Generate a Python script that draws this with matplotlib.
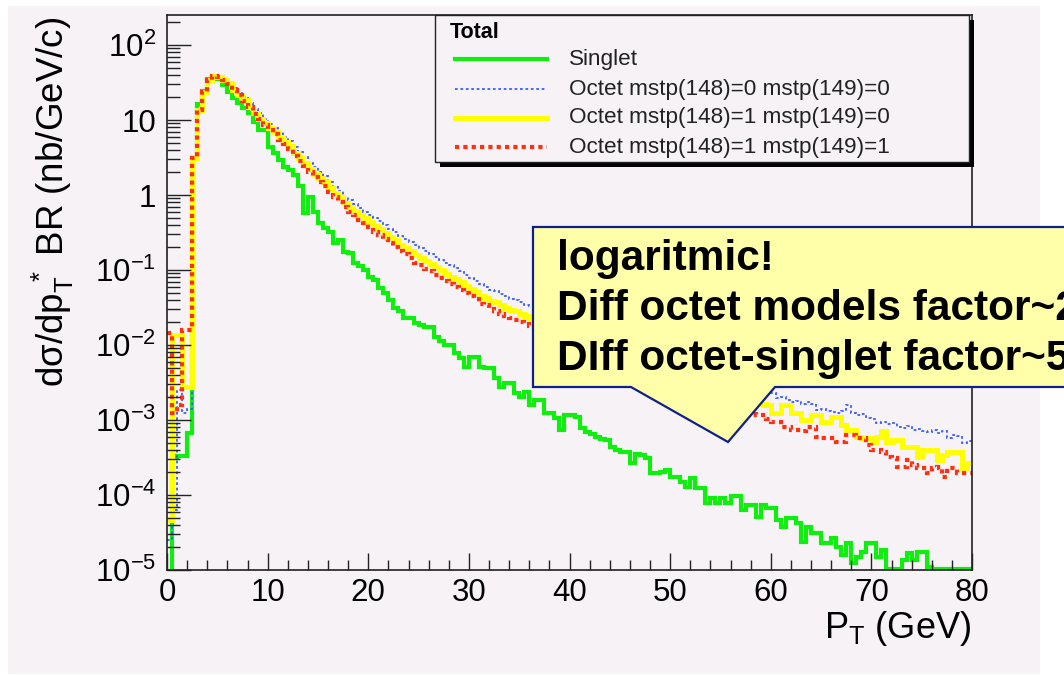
import numpy as np
import matplotlib
matplotlib.use("Agg")
import matplotlib.pyplot as plt
from matplotlib.patches import Rectangle, Polygon
from matplotlib.lines import Line2D
from matplotlib.ticker import LogLocator, MultipleLocator, NullFormatter

plt.rcParams['font.family'] = ['Liberation Sans', 'DejaVu Sans']
plt.rcParams['mathtext.fontset'] = 'custom'
plt.rcParams['mathtext.rm'] = 'Liberation Sans'
plt.rcParams['mathtext.it'] = 'Liberation Sans'
plt.rcParams['mathtext.default'] = 'regular'

# pT binning: 160 bins of 0.5 GeV
pt_edges = np.arange(0, 80.5, 0.5)

# log10 of dsigma/dpT * BR (nb/GeV/c) per bin, 10 bins (5 GeV) per row
singlet_log = [
    -6.00, -3.51, -3.48, -3.48, -3.17, 0.49, 1.21, 1.39, 1.55, 1.57,
    1.55, 1.47, 1.38, 1.29, 1.23, 1.16, 1.09, 0.98, 0.87, 0.87,
    0.64, 0.56, 0.47, 0.38, 0.33, 0.27, 0.12, -0.24, -0.02, -0.22,
    -0.37, -0.44, -0.49, -0.64, -0.60, -0.76, -0.77, -0.91, -0.95, -1.00,
    -1.09, -1.13, -1.24, -1.31, -1.40, -1.51, -1.55, -1.64, -1.64, -1.70,
    -1.73, -1.76, -1.76, -1.89, -1.95, -2.00, -2.00, -2.11, -2.17, -2.29,
    -2.16, -2.16, -2.29, -2.31, -2.31, -2.44, -2.56, -2.51, -2.51, -2.64,
    -2.69, -2.62, -2.80, -2.73, -2.73, -2.91, -2.90, -2.97, -3.13, -2.93,
    -2.93, -2.96, -3.11, -3.16, -3.18, -3.22, -3.25, -3.27, -3.36, -3.40,
    -3.42, -3.42, -3.57, -3.45, -3.47, -3.50, -3.71, -3.70, -3.69, -3.66,
    -3.76, -3.76, -3.82, -3.89, -3.77, -3.91, -3.91, -4.11, -4.04, -4.11,
    -4.04, -4.11, -4.02, -4.02, -4.20, -4.13, -4.13, -4.29, -4.13, -4.17,
    -4.17, -4.33, -4.42, -4.31, -4.31, -4.37, -4.62, -4.42, -4.51, -4.51,
    -4.64, -4.64, -4.57, -4.69, -4.80, -4.64, -4.90, -4.82, -4.76, -4.64,
    -4.64, -4.82, -4.73, -4.99, -4.99, -4.99, -4.87, -4.77, -4.87, -4.76,
    -4.76, -4.96, -4.99, -4.99, -4.99, -4.99, -4.99, -4.99, -4.99, -4.99,
]

octet_00_log = [
    -4.60, -4.20, -2.60, -2.90, -2.85, 0.49, 1.13, 1.38, 1.53, 1.59,
    1.59, 1.55, 1.51, 1.43, 1.37, 1.31, 1.23, 1.15, 1.09, 1.02,
    0.95, 0.90, 0.84, 0.78, 0.72, 0.64, 0.57, 0.51, 0.43, 0.37,
    0.31, 0.25, 0.17, 0.11, 0.05, -0.02, -0.07, -0.12, -0.17, -0.22,
    -0.27, -0.31, -0.35, -0.40, -0.45, -0.49, -0.54, -0.58, -0.62, -0.67,
    -0.71, -0.75, -0.78, -0.82, -0.86, -0.90, -0.93, -0.97, -1.01, -1.06,
    -1.10, -1.14, -1.19, -1.22, -1.26, -1.28, -1.32, -1.35, -1.38, -1.40,
    -1.43, -1.46, -1.48, -1.52, -1.53, -1.57, -1.58, -1.62, -1.63, -1.67,
    -1.68, -1.70, -1.74, -1.75, -1.79, -1.80, -1.84, -1.85, -1.89, -1.90,
    -1.94, -1.95, -1.97, -2.01, -2.03, -2.05, -2.08, -2.10, -2.12, -2.16,
    -2.17, -2.21, -2.22, -2.26, -2.27, -2.31, -2.32, -2.36, -2.37, -2.41,
    -2.42, -2.46, -2.48, -2.52, -2.54, -2.58, -2.60, -2.62, -2.62, -2.64,
    -2.64, -2.71, -2.69, -2.73, -2.76, -2.74, -2.78, -2.76, -2.79, -2.86,
    -2.85, -2.88, -2.89, -2.90, -2.88, -2.80, -2.91, -2.93, -2.92, -2.97,
    -2.99, -3.04, -3.03, -3.05, -3.04, -3.09, -3.11, -3.08, -3.13, -3.12,
    -3.14, -3.16, -3.13, -3.17, -3.15, -3.24, -3.20, -3.21, -3.30, -3.28,
]

octet_10_log = [
    -4.33, -1.87, -1.87, -2.56, -2.56, 0.49, 1.13, 1.38, 1.53, 1.59,
    1.58, 1.54, 1.49, 1.40, 1.33, 1.27, 1.18, 1.09, 1.02, 0.96,
    0.89, 0.84, 0.77, 0.71, 0.65, 0.56, 0.49, 0.43, 0.35, 0.28,
    0.23, 0.17, 0.09, 0.03, -0.03, -0.10, -0.16, -0.21, -0.26, -0.31,
    -0.36, -0.41, -0.45, -0.50, -0.56, -0.60, -0.66, -0.70, -0.74, -0.80,
    -0.84, -0.88, -0.92, -0.96, -1.00, -1.05, -1.09, -1.12, -1.16, -1.21,
    -1.25, -1.29, -1.34, -1.37, -1.41, -1.43, -1.47, -1.50, -1.53, -1.55,
    -1.58, -1.61, -1.64, -1.67, -1.69, -1.74, -1.75, -1.79, -1.80, -1.85,
    -1.86, -1.88, -1.93, -1.94, -1.97, -2.01, -2.02, -2.06, -2.08, -2.10,
    -2.14, -2.16, -2.18, -2.22, -2.24, -2.26, -2.30, -2.31, -2.35, -2.37,
    -2.39, -2.43, -2.45, -2.47, -2.51, -2.53, -2.55, -2.59, -2.61, -2.63,
    -2.67, -2.68, -2.72, -2.73, -2.76, -2.77, -2.77, -2.78, -2.78, -2.80,
    -2.91, -2.91, -2.80, -2.80, -2.91, -2.91, -3.00, -3.00, -2.93, -2.93,
    -3.02, -3.02, -2.96, -2.96, -3.07, -3.13, -3.13, -3.22, -3.24, -3.24,
    -3.29, -3.22, -3.15, -3.29, -3.27, -3.27, -3.36, -3.36, -3.36, -3.49,
    -3.40, -3.40, -3.40, -3.53, -3.46, -3.42, -3.42, -3.42, -3.64, -3.57,
]

octet_11_log = [
    -1.84, -2.90, -2.80, -1.80, -1.80, 0.49, 1.13, 1.38, 1.53, 1.59,
    1.58, 1.54, 1.48, 1.40, 1.33, 1.26, 1.17, 1.08, 1.01, 0.94,
    0.87, 0.82, 0.74, 0.68, 0.62, 0.52, 0.45, 0.39, 0.31, 0.24,
    0.18, 0.12, 0.04, -0.03, -0.09, -0.16, -0.22, -0.27, -0.33, -0.37,
    -0.43, -0.49, -0.53, -0.59, -0.64, -0.69, -0.75, -0.79, -0.84, -0.90,
    -0.93, -0.98, -1.01, -1.06, -1.10, -1.14, -1.18, -1.22, -1.26, -1.31,
    -1.35, -1.39, -1.45, -1.47, -1.52, -1.54, -1.58, -1.61, -1.64, -1.66,
    -1.69, -1.72, -1.75, -1.79, -1.81, -1.86, -1.87, -1.92, -1.93, -1.97,
    -1.99, -2.03, -2.05, -2.07, -2.11, -2.15, -2.16, -2.20, -2.22, -2.25,
    -2.28, -2.31, -2.33, -2.37, -2.39, -2.41, -2.45, -2.46, -2.50, -2.52,
    -2.54, -2.58, -2.60, -2.62, -2.66, -2.68, -2.70, -2.74, -2.76, -2.78,
    -2.82, -2.83, -2.86, -2.88, -2.91, -2.92, -2.92, -2.93, -2.93, -2.98,
    -3.02, -3.02, -3.09, -3.09, -3.13, -3.13, -3.15, -3.09, -3.09, -3.22,
    -3.24, -3.24, -3.24, -3.29, -3.29, -3.20, -3.20, -3.24, -3.24, -3.33,
    -3.40, -3.40, -3.42, -3.49, -3.51, -3.62, -3.62, -3.53, -3.60, -3.64,
    -3.64, -3.71, -3.64, -3.62, -3.76, -3.64, -3.64, -3.71, -3.71, -3.71,
]

legend_labels = [
    "Singlet",
    "Octet mstp(148)=0 mstp(149)=0",
    "Octet mstp(148)=1 mstp(149)=0",
    "Octet mstp(148)=1 mstp(149)=1",
]
x_ticks = [0, 10, 20, 30, 40, 50, 60, 70, 80]
y_ticks = [1e-5, 1e-4, 1e-3, 1e-2, 1e-1, 1, 10, 100]
y_tick_labels = ["10$^{-5}$", "10$^{-4}$", "10$^{-3}$", "10$^{-2}$",
                 "10$^{-1}$", "1", "10", "10$^{2}$"]
note_lines = ["logaritmic!",
              "Diff octet models factor~2",
              "DIff octet-singlet factor~5"]

W, H = 1064, 675
PANEL = '#f6f2f6'
GREEN = '#10ee10'
BLUE = '#3a5cff'
YELLOW = '#ffff00'
RED = '#ff3010'


def fx(x):
    return x / W


def fy(y):
    return 1 - y / H


fig = plt.figure(figsize=(W / 100, H / 100), dpi=100)
fig.patch.set_facecolor('white')
fig.add_artist(Rectangle((fx(8), fy(674)), fx(1032), 668 / H,
                         transform=fig.transFigure, facecolor=PANEL,
                         edgecolor='none', zorder=0))

ax = fig.add_axes([fx(167), fy(570), fx(972 - 167), (570 - 15) / H])
ax.set_facecolor(PANEL)

series = [
    (singlet_log, dict(color=GREEN, lw=3.0)),
    (octet_00_log, dict(color=BLUE, lw=1.3, linestyle=(0, (1.5, 1.5)))),
    (octet_10_log, dict(color=YELLOW, lw=3.6)),
    (octet_11_log, dict(color=RED, lw=3.0, linestyle=(0, (1, 1)))),
]
for logs, style in series:
    ax.stairs(10.0 ** np.array(logs), pt_edges, baseline=None, **style)

ax.set_yscale('log')
ax.set_xlim(0, 80)
ax.set_ylim(1e-5, 10 ** 2.4)
ax.set_xticks(x_ticks)
ax.set_xticklabels([str(t) for t in x_ticks])
ax.set_yticks(y_ticks)
ax.set_yticklabels(y_tick_labels)
ax.xaxis.set_minor_locator(MultipleLocator(2))
ax.yaxis.set_minor_locator(LogLocator(base=10, subs=np.arange(2, 10), numticks=20))
ax.yaxis.set_minor_formatter(NullFormatter())
ax.tick_params(axis='both', which='both', direction='in', top=False, right=False,
               width=1.0, color='#222222', labelsize=22.5)
ax.tick_params(axis='x', which='major', length=12, pad=6)
ax.tick_params(axis='x', which='minor', length=7)
ax.tick_params(axis='y', which='major', length=17, pad=8)
ax.tick_params(axis='y', which='minor', length=9)
for sp in ax.spines.values():
    sp.set_linewidth(1.2)
    sp.set_color('#222222')

# axis titles, ROOT-style aligned to the end of the axis
fig.text(fx(971), fy(628), "P$_{T}$ (GeV)", fontsize=26, ha='right', va='center')
fig.text(fx(53), fy(17), "d\u03c3/dp$_{T}^{\\ *}$ BR (nb/GeV/c)", fontsize=26.5,
         rotation=90, ha='center', va='top')

# legend box with a hard black shadow
fig.add_artist(Rectangle((fx(440), fy(167)), fx(534), 147 / H, transform=fig.transFigure,
                         facecolor='black', edgecolor='none', zorder=5))
fig.add_artist(Rectangle((fx(435), fy(162)), fx(534), 147 / H, transform=fig.transFigure,
                         facecolor=PANEL, edgecolor='#222222', lw=1.0, zorder=5.1))
fig.text(fx(450), fy(32), "Total", fontsize=15.5, fontweight='bold', ha='left',
         va='center', zorder=6)
rows_y = [59, 89, 118, 147]
for (logs, style), label, y in zip(series, legend_labels, rows_y):
    fig.add_artist(Line2D([fx(455), fx(547)], [fy(y), fy(y)], transform=fig.transFigure,
                          zorder=6, **style))
    fig.text(fx(569), fy(y), label, fontsize=16.2, ha='left', va='center',
             color='#222222', zorder=6)

# speech-bubble note
bubble = [(533, 227), (1080, 227), (1080, 387), (775, 387), (728, 442),
          (631, 387), (533, 387)]
fig.add_artist(Polygon([(fx(x), fy(y)) for x, y in bubble], closed=True,
                       transform=fig.transFigure, facecolor='#ffffaa',
                       edgecolor='#10208a', lw=1.6, zorder=7))
for line, base in zip(note_lines, [270, 320, 370]):
    fig.text(fx(557), fy(base), line, fontsize=30.5, fontweight='bold', ha='left',
             va='baseline', zorder=8)

fig.savefig('out.png', dpi=100)
